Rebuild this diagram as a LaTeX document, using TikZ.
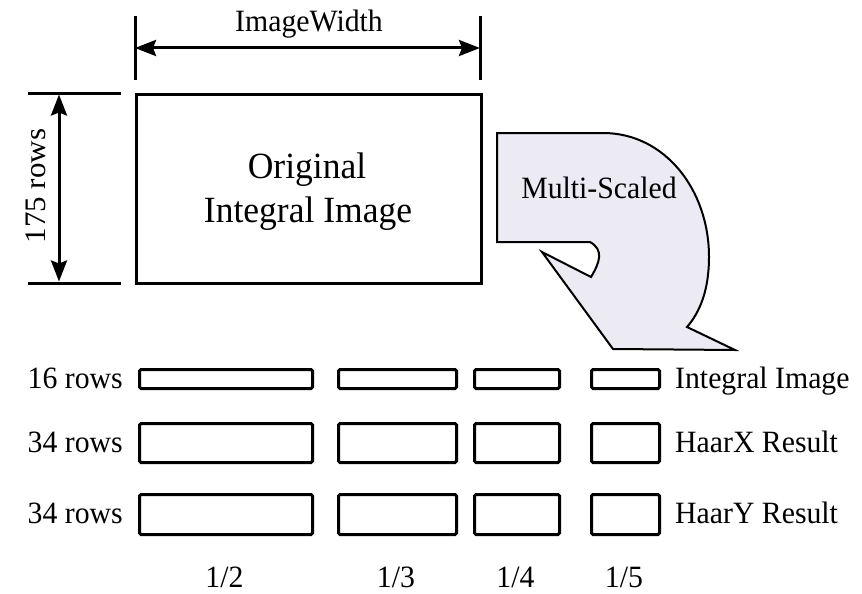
\documentclass[tikz,border=0pt]{standalone}
\usepackage{fontspec}
\setmainfont{Liberation Serif}
\usetikzlibrary{arrows.meta}
\definecolor{arrowfill}{RGB}{236,234,242}
\begin{document}
\begin{tikzpicture}[x=1pt,y=-1pt,
  lbl/.style={inner sep=0pt,anchor=base,xscale=0.96,font=\fontsize{31}{36}\selectfont},
  bigtxt/.style={inner sep=0pt,anchor=base,xscale=0.96,font=\fontsize{37}{42}\selectfont},
  mainbox/.style={draw,line width=3pt},
  smallbox/.style={draw,line width=3pt,rounded corners=1.5pt},
  dimline/.style={line width=3pt},
  dimarrow/.style={line width=3pt,{Stealth[length=21pt,width=16pt,inset=3pt]}-{Stealth[length=21pt,width=16pt,inset=3pt]}},
  bendarrow/.style={draw,line width=2pt,fill=arrowfill,line join=miter}]
\useasboundingbox (0,0) rectangle (862,594);

% main image box
\node[mainbox,minimum width=345pt,minimum height=189pt,anchor=north west,inner sep=0pt] (orig) at (135,93) {};
\node[bigtxt] (origtxt1) at (307,178) {Original};
\node[bigtxt] (origtxt2) at (308,222) {Integral Image};

% image width dimension
\coordinate (wl1) at (135,16); \coordinate (wl2) at (135,80);
\coordinate (wr1) at (480,16); \coordinate (wr2) at (480,80);
\draw[dimline] (wl1) -- (wl2);
\draw[dimline] (wr1) -- (wr2);
\coordinate (wa) at (135,48); \coordinate (wb) at (480,48);
\draw[dimarrow] (wa) -- (wb);
\node[lbl] (imgwidth) at (309,32) {ImageWidth};

% rows dimension
\coordinate (ht1) at (28,93); \coordinate (ht2) at (121,93);
\coordinate (hb1) at (28,283); \coordinate (hb2) at (121,283);
\draw[dimline] (ht1) -- (ht2);
\draw[dimline] (hb1) -- (hb2);
\coordinate (ha) at (59,94.5); \coordinate (hb) at (59,281.5);
\draw[dimarrow] (ha) -- (hb);
\node[lbl,rotate=90] (rows175) at (45,186) {175 rows};

% bent arrow
\path[bendarrow] (497,133) -- (603,133)
  .. controls (665,133) and (709,190) .. (709,257)
  .. controls (709,290) and (700,312) .. (687,327)
  -- (735,350) -- (613,349) -- (542,252) -- (591,277)
  .. controls (600,262) and (604,250) .. (590,242)
  -- (497,242) -- cycle;
\node[lbl] (multi) at (599,198) {Multi-Scaled};

% small boxes
\foreach \r/\t/\b in {a/368/387, b/422/461, c/493/533}{
  \foreach \c/\l/\rr in {1/138/311, 2/337/455, 3/473/558, 4/590/658}{
    \node[smallbox,anchor=north west,inner sep=0pt,minimum width={\rr-\l},minimum height={\b-\t}] (box\r\c) at (\l,\t) {};
  }
}

% left labels
\node[lbl,anchor=base east] (l1) at (123,388) {16 rows};
\node[lbl,anchor=base east] (l2) at (123,452) {34 rows};
\node[lbl,anchor=base east] (l3) at (123,523.5) {34 rows};
% right labels
\node[lbl,anchor=base west] (r1) at (675,388) {Integral Image};
\node[lbl,anchor=base west] (r2) at (675,452) {HaarX Result};
\node[lbl,anchor=base west] (r3) at (675,523.5) {HaarY Result};
% scale labels
\node[lbl] (s2) at (224.5,587) {1/2};
\node[lbl] (s3) at (396,587) {1/3};
\node[lbl] (s4) at (515.5,587) {1/4};
\node[lbl] (s5) at (624,587) {1/5};
\end{tikzpicture}
\end{document}
